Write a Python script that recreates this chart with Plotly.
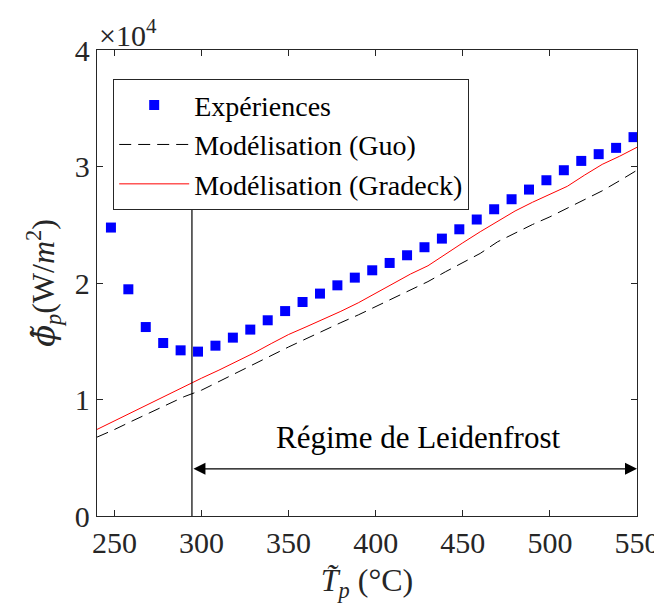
import plotly.graph_objects as go

# Experimental points (T in degC, flux in W/m2)
t_exp = [248, 258, 268, 278, 288, 298, 308, 318, 328, 338, 348, 358, 368, 378, 388, 398,
         408, 418, 428, 438, 448, 458, 468, 478, 488, 498, 508, 518, 528, 538, 548]
phi_exp = [24760, 19460, 16220, 14850, 14220, 14110, 14620, 15310, 16000, 16800, 17590,
           18370, 19090, 19800, 20460, 21090, 21720, 22380, 23070, 23810, 24610, 25450,
           26330, 27190, 28020, 28820, 29680, 30480, 31060, 31600, 32520]

# Model curves
t_mod = [240, 250, 260, 270, 280, 290, 300, 310, 320, 330, 340, 350, 360, 370, 380, 390,
         400, 410, 420, 430, 440, 450, 460, 470, 480, 490, 500, 510, 520, 530, 540, 550]
phi_guo = [6770, 7420, 8140, 8860, 9570, 10240, 10800, 11550, 12300, 13050, 13800, 14510,
           15210, 15920, 16600, 17260, 17970, 18690, 19400, 20120, 20960, 21720, 22540,
           23540, 24290, 25020, 25680, 26410, 27150, 27910, 28780, 29680]
phi_gradeck = [7430, 8170, 8910, 9650, 10390, 11120, 11830, 12520, 13220, 13990, 14800,
               15580, 16230, 16880, 17570, 18300, 19140, 19990, 20770, 21480, 22490, 23450,
               24400, 25310, 26180, 26930, 27630, 28300, 29270, 30180, 30880, 31650]

# Leidenfrost marker
t_leiden = 294.5
t_max = 550
line_top = 26900
arrow_y = 4050
label_pos = (424, 6750)

x_ticks = [250, 300, 350, 400, 450, 500, 550]
y_ticks = [0, 10000, 20000, 30000, 40000]
y_ticklabels = ["0", "1", "2", "3", "4"]

SERIF = "Liberation Serif"
AXC = "#262626"

fig = go.Figure()
fig.add_trace(go.Scatter(x=t_exp, y=phi_exp, mode="markers", name="Expériences",
                         marker=dict(symbol="square", size=10, color="#0000FF")))
fig.add_trace(go.Scatter(x=t_mod, y=phi_guo, mode="lines", name="Modélisation (Guo)",
                         line=dict(color="black", width=1, dash="12px,7px")))
fig.add_trace(go.Scatter(x=t_mod, y=phi_gradeck, mode="lines", name="Modélisation (Gradeck)",
                         line=dict(color="#FF0000", width=1)))

fig.add_shape(type="line", x0=t_leiden, x1=t_leiden, y0=0, y1=line_top,
              line=dict(color="black", width=1.2))
fig.add_annotation(x=t_max, y=arrow_y, ax=t_leiden, ay=arrow_y, xref="x", yref="y",
                   axref="x", ayref="y", text="", showarrow=True, arrowhead=2,
                   startarrowhead=2, arrowside="end+start", arrowsize=2,
                   arrowwidth=1.2, arrowcolor="black")
fig.add_annotation(x=label_pos[0], y=label_pos[1], text="Régime de Leidenfrost",
                   showarrow=False, font=dict(family=SERIF, size=31, color="black"))
fig.add_annotation(x=0, y=1, xref="paper", yref="paper", xanchor="left", yanchor="bottom",
                   text="×10<sup>4</sup>", showarrow=False, yshift=-4, xshift=0,
                   font=dict(family=SERIF, size=30, color=AXC))

fig.update_xaxes(range=[240, 550], tickvals=x_ticks, ticks="inside", ticklen=6,
                 tickcolor=AXC, showline=True, linecolor=AXC, linewidth=1.3, mirror="ticks",
                 showgrid=False, zeroline=False, automargin=False,
                 tickfont=dict(family=SERIF, size=30, color=AXC),
                 title=dict(text="<i>T̃</i><sub><i>p</i></sub> (°C)", standoff=10,
                            font=dict(family=SERIF, size=32, color=AXC)))
fig.update_yaxes(range=[0, 40000], tickvals=y_ticks, ticktext=y_ticklabels, ticks="inside",
                 ticklen=6, tickcolor=AXC, showline=True, linecolor=AXC, linewidth=1.3,
                 mirror="ticks", showgrid=False, zeroline=False, automargin=False,
                 tickfont=dict(family=SERIF, size=30, color=AXC),
                 title=dict(text="<span style=\"font-family:'DejaVu Serif'\"><i>ϕ̃</i></span>"
                                 "<sub><i>p</i></sub>(W/<i>m</i><sup>2</sup>)",
                            standoff=10, font=dict(family=SERIF, size=32, color=AXC)))

# page body has an 8px margin, so the figure is drawn 8px smaller and shifted
fig.update_layout(width=654, height=604, plot_bgcolor="white", paper_bgcolor="white",
                  margin=dict(l=89, r=25, t=42, b=96),
                  legend=dict(x=0.03, y=0.937, xanchor="left", yanchor="top",
                              bordercolor=AXC, borderwidth=1, bgcolor="white",
                              itemwidth=70, tracegroupgap=0,
                              font=dict(family=SERIF, size=28, color="black")))

fig.write_html("out.html")
